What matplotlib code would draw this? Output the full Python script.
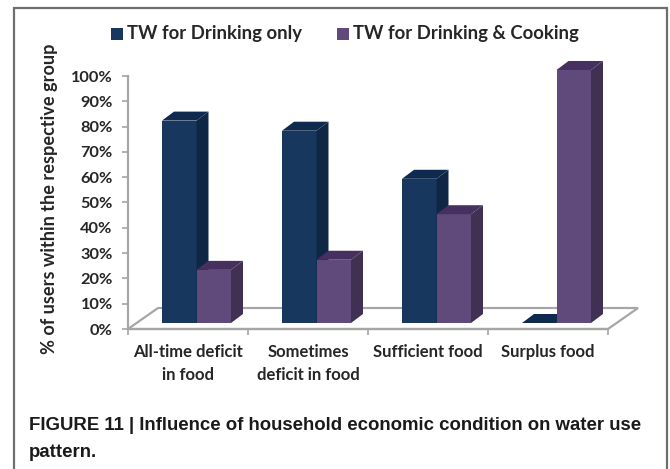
import matplotlib
matplotlib.use("Agg")
import matplotlib.pyplot as plt
from matplotlib.patches import Polygon, Rectangle

categories = ["All-time deficit\nin food", "Sometimes\ndeficit in food", "Sufficient food", "Surplus food"]
drinking_only = [80, 76, 57, 0]
drinking_cooking = [21, 25, 43, 100]
series_names = ["TW for Drinking only", "TW for Drinking & Cooking"]
y_ticks = list(range(0, 101, 10))

W, H = 670, 469
AX_L, AX_R, AX_T, AX_B = 128, 608, 76, 329

fig = plt.figure(figsize=(W / 100, H / 100), dpi=100)
fig.patch.set_facecolor("white")
ax = fig.add_axes([AX_L / W, 1 - AX_B / H, (AX_R - AX_L) / W, (AX_B - AX_T) / H])
ax.set_xlim(0, 4)
ax.set_ylim(0, 100)
ax.patch.set_alpha(0)

FONT = "Lato"
INK = "#262626"
AXIS = "#a6a6a6"

# Oblique projection of the 3-D column chart, in data units
PX_X = 4 / (AX_R - AX_L)
PX_Y = 100 / (AX_B - AX_T)
floor_dx, floor_dy = 30 * PX_X, 21 * PX_Y
bar_dx, bar_dy = 12 * PX_X, 9 * PX_Y
base_y = 6 * PX_Y
bar_w = 34.5 * PX_X
group_start = 34 * PX_X

# Floor of the chart
ax.add_patch(Polygon([(0, 0), (4, 0), (4 + floor_dx, floor_dy), (floor_dx, floor_dy)],
                     closed=True, fc="white", ec=AXIS, lw=1.6, clip_on=False, zorder=1))


def column(x, value, face, top, side, z):
    y1 = base_y + value
    if value > 0:
        ax.add_patch(Rectangle((x, base_y), bar_w, value, fc=face, ec="none", zorder=z, clip_on=False))
        ax.add_patch(Polygon([(x + bar_w, base_y), (x + bar_w + bar_dx, base_y + bar_dy),
                              (x + bar_w + bar_dx, y1 + bar_dy), (x + bar_w, y1)],
                             closed=True, fc=side, ec="none", zorder=z, clip_on=False))
    ax.add_patch(Polygon([(x, y1), (x + bar_w, y1), (x + bar_w + bar_dx, y1 + bar_dy), (x + bar_dx, y1 + bar_dy)],
                         closed=True, fc=top, ec="none", zorder=z, clip_on=False))


for i, (a, b) in enumerate(zip(drinking_only, drinking_cooking)):
    x0 = i + group_start
    column(x0, a, "#17375e", "#0e2a4e", "#0f2644", 3)
    column(x0 + bar_w, b, "#604a7b", "#46305f", "#403152", 4)

# Axes and tick labels
for s in ("top", "right"):
    ax.spines[s].set_visible(False)
for s in ("left", "bottom"):
    ax.spines[s].set_color(AXIS)
    ax.spines[s].set_linewidth(1.6)
    ax.spines[s].set_zorder(2)
ax.set_yticks(y_ticks)
ax.set_yticklabels([f"{v}%" for v in y_ticks], fontname=FONT, fontweight="bold", fontsize=11.8, color=INK)
ax.set_xticks(range(5))
ax.set_xticklabels([""] * 5)
ax.tick_params(axis="both", color=AXIS, width=1.2, length=4, pad=7)
for i, name in enumerate(categories):
    ax.annotate(name, xy=(i + 0.5, 0), xytext=(0, -15), textcoords="offset pixels",
                ha="center", va="top", fontname=FONT, fontweight="bold", fontsize=12,
                color=INK, linespacing=1.5)

fig.text(50 / W, 1 - 199 / H, "% of users within the respective group", rotation=90,
         ha="center", va="center", fontname=FONT, fontweight="bold", fontsize=13.1, color=INK)

# Legend above the plot
for px, name, col in ((111, series_names[0], "#17375e"), (337, series_names[1], "#604a7b")):
    fig.add_artist(Rectangle((px / W, 1 - 40 / H), 12 / W, 12 / H, transform=fig.transFigure,
                             fc=col, ec="none"))
    fig.text((px + 16) / W, 1 - 33 / H, name, ha="left", va="center", fontname=FONT,
             fontweight="bold", fontsize=13.3, color=INK)

# Caption
fig.text(29 / W, 1 - 425 / H, "FIGURE 11 | Influence of household economic condition on water use",
         ha="left", va="center", family="Liberation Sans", fontweight="bold", fontsize=13.4, color="#1a1a1a")
fig.text(29 / W, 1 - 452 / H, "pattern.", ha="left", va="center", family="Liberation Sans",
         fontweight="bold", fontsize=13.4, color="#1a1a1a")

# Frame around the figure; its lower edge falls below the canvas
fig.add_artist(Rectangle((14 / W, -10 / H), 653 / W, (H + 10 - 8) / H, transform=fig.transFigure,
                         fc="none", ec="#6e6e6e", lw=1.6))

fig.savefig("out.png", dpi=100)
